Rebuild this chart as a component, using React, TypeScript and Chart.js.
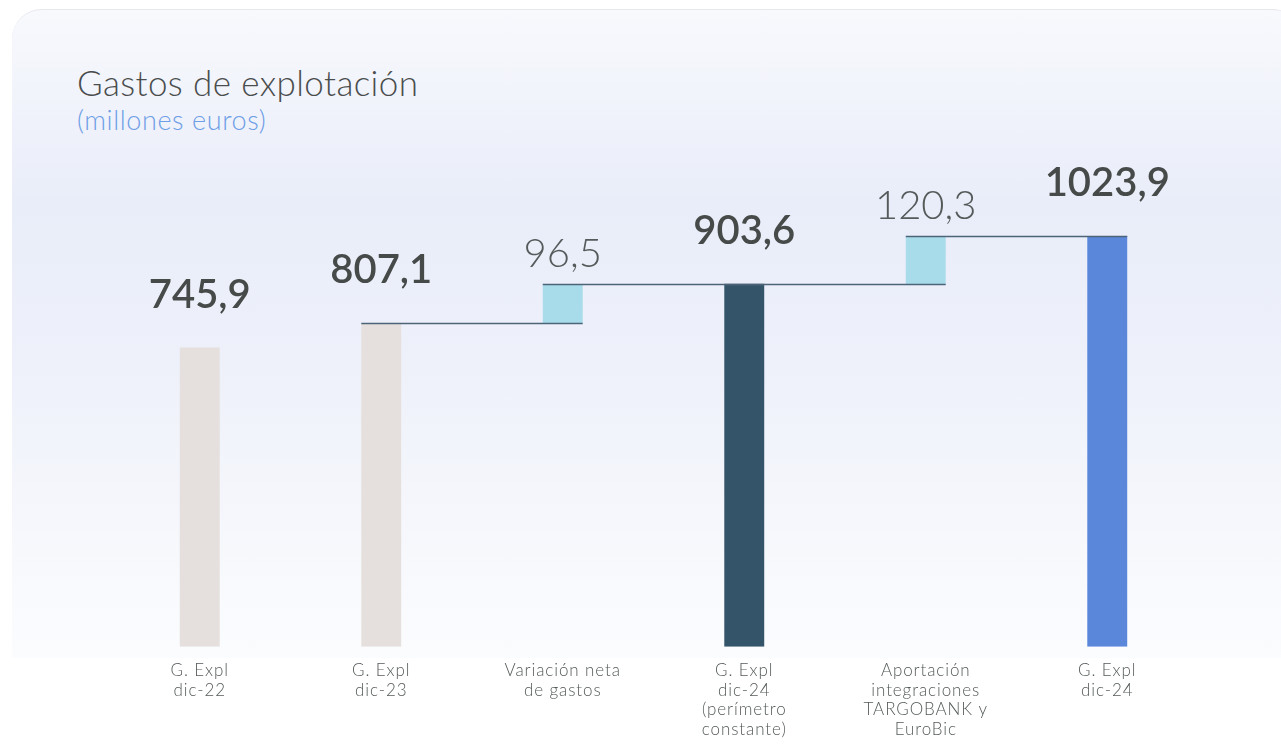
import React, { useEffect, useRef } from "react";
import { Chart, registerables } from "chart.js";

Chart.register(...registerables);

const categories: string[][] = [
  ["G. Expl", "dic-22"],
  ["G. Expl", "dic-23"],
  ["Variación neta", "de gastos"],
  ["G. Expl", "dic-24", "(perímetro", "constante)"],
  ["Aportación", "integraciones", "TARGOBANK y", "EuroBic"],
  ["G. Expl", "dic-24"],
];
const values: number[] = [745.9, 807.1, 96.5, 903.6, 120.3, 1023.9];
const kinds: string[] = ["total", "total", "delta", "total", "delta", "total"];
const barColors: string[] = ["#e5e0dd", "#e5e0dd", "#a9dcea", "#34546a", "#a9dcea", "#5b87db"];

const FONT = "Lato, 'Open Sans', sans-serif";

function buildRanges(): [number, number][] {
  const out: [number, number][] = [];
  let running = 0;
  values.forEach((v, i) => {
    if (kinds[i] === "delta") {
      out.push([running, running + v]);
      running = running + v;
    } else {
      out.push([0, v]);
      running = v;
    }
  });
  return out;
}

const fmt = (v: number) => v.toFixed(1).replace(".", ",");

const spacingPlugin = {
  id: "tickSpacing",
  beforeDraw(chart: any) {
    chart.ctx.letterSpacing = "0.9px";
  },
  afterDraw(chart: any) {
    chart.ctx.letterSpacing = "0px";
  },
};

const waterfallPlugin = {
  id: "waterfallExtras",
  afterDatasetsDraw(chart: any) {
    const { ctx } = chart;
    const meta = chart.getDatasetMeta(0);
    const y = chart.scales.y;
    const ranges = chart.data.datasets[0].data as [number, number][];
    const left = (i: number) => meta.data[i].x - meta.data[i].width / 2;
    const right = (i: number) => meta.data[i].x + meta.data[i].width / 2;
    ctx.save();
    ctx.letterSpacing = "0px";
    ctx.strokeStyle = "#4d6478";
    ctx.lineWidth = 1.5;
    kinds.forEach((k, i) => {
      if (k !== "delta") return;
      const [s, e] = ranges[i];
      const segs: [number, number, number][] = [
        [s, left(i - 1), right(i)],
        [e, left(i), right(i + 1)],
      ];
      segs.forEach(([val, x1, x2]) => {
        const yy = Math.round(y.getPixelForValue(val)) + 0.5;
        ctx.beginPath();
        ctx.moveTo(x1, yy);
        ctx.lineTo(x2, yy);
        ctx.stroke();
      });
    });
    ctx.textAlign = "center";
    ctx.textBaseline = "alphabetic";
    values.forEach((v, i) => {
      const top = y.getPixelForValue(ranges[i][1]);
      const isTotal = kinds[i] !== "delta";
      ctx.font = isTotal ? `600 40px ${FONT}` : `300 40px ${FONT}`;
      ctx.fillStyle = isTotal ? "#464a49" : "#555a5a";
      ctx.fillText(fmt(v), meta.data[i].x, top - (isTotal ? 40 : 17));
    });
    ctx.restore();
  },
};

export default function App() {
  const ref = useRef<HTMLCanvasElement>(null);
  useEffect(() => {
    if (!ref.current) return;
    const chart = new Chart(ref.current, {
      type: "bar",
      data: {
        labels: categories,
        datasets: [
          {
            data: buildRanges() as any,
            backgroundColor: barColors,
            borderWidth: 0,
            barPercentage: 0.22,
            categoryPercentage: 1,
          },
        ],
      },
      options: {
        animation: false,
        responsive: false,
        layout: { padding: { left: 109, right: 83, top: 45, bottom: 0 } },
        plugins: { legend: { display: false }, tooltip: { enabled: false } },
        scales: {
          x: {
            grid: { display: false },
            border: { display: false },
            ticks: {
              color: "#555a5a",
              font: { family: FONT, size: 17, weight: "300", lineHeight: 1.15 },
              padding: 6,
              maxRotation: 0,
              autoSkip: false,
            },
          },
          y: { display: false, min: 0, max: 1500 },
        },
      },
      plugins: [spacingPlugin, waterfallPlugin],
    });
    return () => chart.destroy();
  }, []);

  return (
    <div style={{ position: "fixed", inset: 0, background: "#ffffff", overflow: "hidden" }}>
      <div
        style={{
          position: "absolute",
          left: 12,
          top: 9,
          width: 1290,
          height: 648,
          borderTopLeftRadius: 30,
          borderTopRightRadius: 30,
          borderTop: "1px solid #e6e8ee",
          background:
            "linear-gradient(180deg, #f8f9fd 0%, #e9edf9 30%, #eef1fa 55%, #f9fafd 90%, #fbfcfe 100%)",
        }}
      />
      <div
        style={{
          position: "absolute",
          left: 77,
          top: 61,
          fontFamily: FONT,
          fontSize: 35,
          lineHeight: "42px",
          color: "#4a4d4d",
          fontWeight: 300,
          letterSpacing: "0.4px",
        }}
      >
        Gastos de explotación
      </div>
      <div
        style={{
          position: "absolute",
          left: 77,
          top: 104,
          fontFamily: FONT,
          fontSize: 27,
          lineHeight: "32px",
          color: "#6e9ee6",
          fontWeight: 300,
          letterSpacing: "0.6px",
        }}
      >
        (millones euros)
      </div>
      <canvas
        ref={ref}
        width={1281}
        height={745}
        style={{ position: "absolute", left: 0, top: 0, width: 1281, height: 745 }}
      />
    </div>
  );
}
